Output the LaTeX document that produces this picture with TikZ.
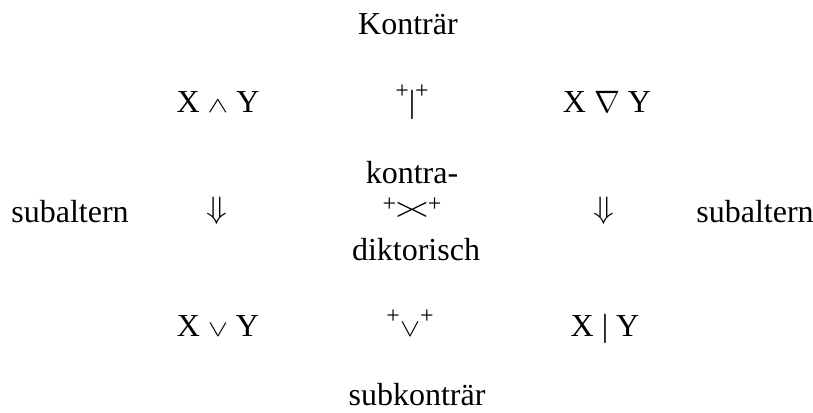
\documentclass[tikz,border=0pt]{standalone}
\usepackage{fix-cm}
\usepackage{graphicx}
\usepackage{fontspec}
\setmainfont{Liberation Serif}
\newcommand\mysym[3][1]{\scalebox{#1}[1]{\fontsize{#2}{#2}\selectfont$#3$}}
\newcommand\plusraised[1]{\raisebox{#1}{\fontsize{24}{24}\selectfont +}}
\begin{document}
\begin{tikzpicture}[x=1pt,y=-1pt,
  every node/.style={inner sep=0pt, outer sep=0pt, font=\fontsize{32}{38}\selectfont},
  lbl/.style={anchor=base},
  arr/.style={anchor=center}]
\useasboundingbox (0,0) rectangle (813,412);
\node[lbl] (kontraer) at (408,35) {Konträr};
\node[lbl] (xand) at (218,112) {X \mysym[1.4]{22}{\wedge} Y};
\node[lbl] (bar) at (412,112) {\plusraised{14pt}|\plusraised{14pt}};
\node[lbl] (xnabla) at (607,112) {X \mysym{31}{\nabla} Y};
\node[lbl] (kontra) at (412,183) {kontra-};
\node[lbl] (subL) at (70,222) {subaltern};
\node[arr] (dL) at (217,211) {\mysym[1.1]{31}{\Downarrow}};
\node[lbl] (cross) at (412,220) {\plusraised{9pt}>\kern-0.13em<\plusraised{9pt}};
\node[arr] (dR) at (604,211) {\mysym[1.1]{31}{\Downarrow}};
\node[lbl] (subR) at (755,222) {subaltern};
\node[lbl] (dikt) at (416,260) {diktorisch};
\node[lbl] (xor) at (218,336) {X \mysym[1.3]{23}{\vee} Y};
\node[lbl] (vee) at (410,336) {\plusraised{13pt}\mysym[1.2]{25}{\vee}\plusraised{13pt}};
\node[lbl] (xbar) at (605,336) {X | Y};
\node[lbl] (subk) at (417,405) {subkonträr};
\end{tikzpicture}
\end{document}
